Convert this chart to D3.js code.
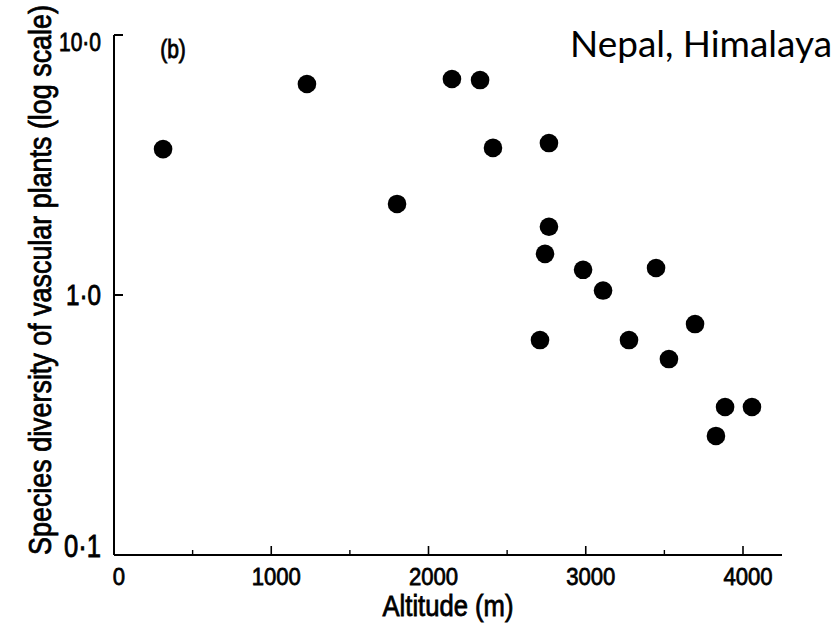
<!DOCTYPE html>
<meta charset="utf-8">
<style>
body { margin: 0; background: #fff; }
svg { display: block; }
</style>
<body>
<svg width="834" height="630"></svg>
<script src="https://cdnjs.cloudflare.com/ajax/libs/d3/7.8.5/d3.min.js"></script>
<script>

// altitude (m) and species diversity (log scale)
var altitude = [312, 1227, 1800, 2149, 2328, 2410, 2766, 2766, 2741, 2709, 2983, 3110, 3275, 3447, 3529, 3695, 3828, 3886, 4057]
var diversity = [3.64, 6.48, 2.24, 6.77, 6.71, 3.68, 3.84, 1.83, 1.44, 0.671, 1.25, 1.04, 0.671, 1.27, 0.567, 0.773, 0.287, 0.371, 0.371]

var xMajor = [0, 1000, 2000, 3000, 4000]
var xMinor = [500, 1500, 2500, 3500]
var yTicks = [0.1, 1, 10]
var yTickLabels = ["0·1", "1·0", "10·0"]

var FONT = "Liberation Sans, Arial, Helvetica, sans-serif"

var svg = d3.select("svg")

var x = d3.scaleLinear().domain([0, 4000]).range([114, 743])
var y = d3.scaleLog().domain([0.1, 10]).range([555, 35])

// scanned-looking text: tall narrow glyphs, sized to a target width
// placed at (px,py), rotated by rot, glyphs stretched vertically by sy
function label(txt, width, px, py, anchor, rot, sy, size) {
  var grp = svg.append("g")
    .attr("transform", `translate(${px},${py}) rotate(${rot || 0}) scale(1,${sy || 1.2})`)
  var t = grp.append("text")
    .attr("font-family", FONT)
    .attr("font-size", size || 20)
    .attr("fill", "#000")
    .attr("stroke", "#000")
    .attr("stroke-width", 0.7)
    .attr("text-anchor", anchor)
    .text(txt)
  if (width) {
    var w = t.node().getComputedTextLength()
    t.attr("font-size", 20 * width / w)
  }
  return t
}

// axes frame
svg.append("line")
  .attr("x1", x(0)).attr("x2", x(0))
  .attr("y1", y(10)).attr("y2", y(0.1))
  .attr("stroke", "#000").attr("stroke-width", 2)

svg.append("line")
  .attr("x1", x(0)).attr("x2", 782)
  .attr("y1", y(0.1)).attr("y2", y(0.1))
  .attr("stroke", "#000").attr("stroke-width", 2.2)

// y ticks (pointing inward)
svg.selectAll(".yt").data(yTicks.slice(1))
  .enter().append("line")
  .attr("x1", x(0)).attr("x2", x(0) + 9)
  .attr("y1", d => y(d)).attr("y2", d => y(d))
  .attr("stroke", "#000").attr("stroke-width", 2)

var yW = [37, 35, 42]
var yOff = [2, 10, 16]
yTicks.forEach((d, i) => {
  label(yTickLabels[i], yW[i], x(0) - 13, y(d) + yOff[i], "end")
})

// x ticks
svg.selectAll(".xt").data(xMajor.slice(1))
  .enter().append("line")
  .attr("x1", d => x(d)).attr("x2", d => x(d))
  .attr("y1", y(0.1)).attr("y2", y(0.1) - 9)
  .attr("stroke", "#000").attr("stroke-width", 1.6)

svg.selectAll(".xm").data(xMinor)
  .enter().append("line")
  .attr("x1", d => x(d)).attr("x2", d => x(d))
  .attr("y1", y(0.1)).attr("y2", y(0.1) - 5)
  .attr("stroke", "#000").attr("stroke-width", 1.4)

xMajor.forEach(d => {
  label(String(d), String(d).length * 12.3, x(d) + 5, 585, "middle", 0, 1.12)
})

// axis titles
label("Altitude (m)", 131, 448, 616, "middle", 0, 1.15)
label("Species diversity of vascular plants (log scale)", 550, 51, 280, "middle", -90, 1.15)
label("(b)", null, 173, 58, "middle", 0, 1.25, 21)

var title = svg.append("text")
  .attr("font-family", "Lato, 'Open Sans', sans-serif")
  .attr("font-size", 31)
  .attr("fill", "#000")
  .text("Nepal, Himalaya")
title.attr("font-size", 31 * 262 / title.node().getComputedTextLength())
  .attr("x", 832).attr("y", 57)
  .attr("text-anchor", "end")

// points
svg.selectAll(".dot")
  .data(altitude)
  .enter().append("circle")
  .attr("cx", d => x(d))
  .attr("cy", (d, i) => y(diversity[i]))
  .attr("r", 9.3)
  .attr("fill", "#000")

</script>
</body>
